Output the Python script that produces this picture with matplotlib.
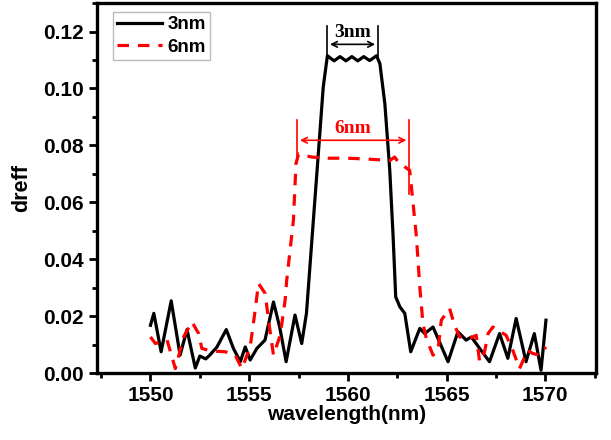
import numpy as np
import matplotlib
matplotlib.use("Agg")
import matplotlib.pyplot as plt
from matplotlib.ticker import MultipleLocator

# 3nm curve (black, solid)
wl_3nm = [1550.0, 1550.17, 1550.54, 1551.05, 1551.5, 1551.85, 1552.27, 1552.5, 1552.8,
          1553.0, 1553.37, 1553.84, 1554.2, 1554.55, 1554.8, 1555.05, 1555.39, 1555.8,
          1556.23, 1556.55, 1556.87, 1557.32, 1557.66, 1557.9, 1558.25, 1558.5, 1558.75,
          1558.96, 1559.3, 1559.6, 1559.9, 1560.2, 1560.5, 1560.8, 1561.1, 1561.45,
          1561.62, 1561.87, 1562.12, 1562.29, 1562.42, 1562.63, 1562.88, 1563.18, 1563.64,
          1563.89, 1564.31, 1565.07, 1565.57, 1565.99, 1566.25, 1566.67, 1567.17, 1567.68,
          1568.1, 1568.52, 1569.02, 1569.44, 1569.78, 1570.03]
dreff_3nm = [0.0168, 0.021, 0.0075, 0.0254, 0.0063, 0.0153, 0.0018, 0.006, 0.005,
             0.0063, 0.0092, 0.0153, 0.0087, 0.004, 0.0092, 0.0046, 0.0087, 0.0116,
             0.025, 0.016, 0.004, 0.0204, 0.0104, 0.021, 0.0537, 0.077, 0.1005,
             0.1115, 0.1097, 0.1112, 0.1097, 0.1112, 0.1097, 0.1112, 0.1098, 0.1115,
             0.1087, 0.0947, 0.0712, 0.0478, 0.0268, 0.0233, 0.021, 0.0075, 0.0157,
             0.0139, 0.0162, 0.004, 0.0145, 0.0116, 0.0127, 0.0087, 0.004, 0.0139,
             0.0052, 0.0192, 0.004, 0.0139, 0.001, 0.0186]

# 6nm curve (red, dashed)
wl_6nm = [1550.0, 1550.25, 1550.84, 1551.26, 1551.68, 1552.1, 1552.44, 1552.6, 1553.03,
          1553.79, 1554.29, 1554.63, 1555.05, 1555.3, 1555.47, 1555.81, 1555.98, 1556.23,
          1556.57, 1556.82, 1556.9, 1557.24, 1557.37, 1557.5, 1558.17, 1559.0, 1560.0,
          1561.0, 1562.12, 1562.37, 1562.54, 1563.13, 1563.3, 1563.47, 1563.64, 1563.8,
          1563.97, 1564.31, 1564.56, 1564.73, 1565.15, 1565.4, 1565.66, 1566.16, 1566.5,
          1566.67, 1566.92, 1567.1, 1567.34, 1568.01, 1568.35, 1568.69, 1569.1, 1569.36,
          1569.7, 1570.03]
dreff_6nm = [0.0127, 0.0104, 0.0116, 0.0016, 0.0127, 0.018, 0.0139, 0.0087, 0.0078,
             0.0075, 0.0063, 0.0016, 0.0092, 0.022, 0.0315, 0.028, 0.0186, 0.0063,
             0.0133, 0.0256, 0.0326, 0.0537, 0.0736, 0.077, 0.0759, 0.0755, 0.0755,
             0.0752, 0.0747, 0.0759, 0.0742, 0.0712, 0.0596, 0.0478, 0.0303, 0.0174,
             0.0122, 0.0063, 0.008, 0.0186, 0.0227, 0.0168, 0.0127, 0.0122, 0.0133,
             0.004, 0.0075, 0.0139, 0.0162, 0.0133, 0.008, 0.0016, 0.008, 0.0069,
             0.0063, 0.0092]

fig = plt.figure(figsize=(6.11, 4.4), dpi=100)
ax = fig.add_axes([0.159, 0.152, 0.816, 0.841])

ax.plot(wl_3nm, dreff_3nm, color='black', linewidth=2.3, label='3nm')
ax.plot(wl_6nm, dreff_6nm, color='red', linewidth=2.3, dashes=(3.6, 2.8), label='6nm')

# 3nm bandwidth marker
ax.plot([1558.95, 1558.95], [0.11, 0.122], color='black', linewidth=1.2)
ax.plot([1561.52, 1561.52], [0.11, 0.122], color='black', linewidth=1.2)
ax.annotate('', xy=(1558.95, 0.1155), xytext=(1561.52, 0.1155),
            arrowprops=dict(arrowstyle='<->', color='black', lw=1.2))
ax.text(1560.23, 0.1168, '3nm', ha='center', va='bottom', fontsize=14,
        fontweight='bold', family='Liberation Serif')

# 6nm bandwidth marker
ax.plot([1557.43, 1557.43], [0.0745, 0.0888], color='red', linewidth=1.2)
ax.plot([1563.1, 1563.1], [0.063, 0.0888], color='red', linewidth=1.2)
ax.annotate('', xy=(1557.43, 0.0818), xytext=(1563.1, 0.0818),
            arrowprops=dict(arrowstyle='<->', color='red', lw=1.2))
ax.text(1560.27, 0.0828, '6nm', ha='center', va='bottom', fontsize=14,
        fontweight='bold', color='red', family='Liberation Serif')

ax.set_xlim(1547.3, 1572.55)
ax.set_ylim(0, 0.13)
ax.xaxis.set_major_locator(MultipleLocator(5))
ax.xaxis.set_minor_locator(MultipleLocator(2.5))
ax.yaxis.set_major_locator(MultipleLocator(0.02))
ax.yaxis.set_minor_locator(MultipleLocator(0.01))
ax.yaxis.set_major_formatter(matplotlib.ticker.FormatStrFormatter('%.2f'))

for s in ax.spines.values():
    s.set_linewidth(2.4)
ax.tick_params(which='major', direction='out', length=6, width=2)
ax.tick_params(which='minor', direction='out', length=3.5, width=2)
for lab in ax.get_xticklabels() + ax.get_yticklabels():
    lab.set_family('Liberation Sans')
    lab.set_fontweight('bold')
    lab.set_fontsize(15)

ax.set_xlabel('wavelength(nm)', fontsize=15, fontweight='bold', family='Liberation Sans', labelpad=0)
ax.set_ylabel('dreff', fontsize=15.5, fontweight='bold', family='Liberation Sans', labelpad=8)

leg = ax.legend(loc='upper left', bbox_to_anchor=(0.025, 0.985), handlelength=2.4,
                prop={'family': 'Liberation Sans', 'weight': 'bold', 'size': 13.5},
                fancybox=False, edgecolor='#aaaaaa', borderpad=0.2, labelspacing=0.3,
                handletextpad=0.3, borderaxespad=0.2)
leg.get_frame().set_linewidth(1.0)

fig.savefig('out.png', dpi=100)
